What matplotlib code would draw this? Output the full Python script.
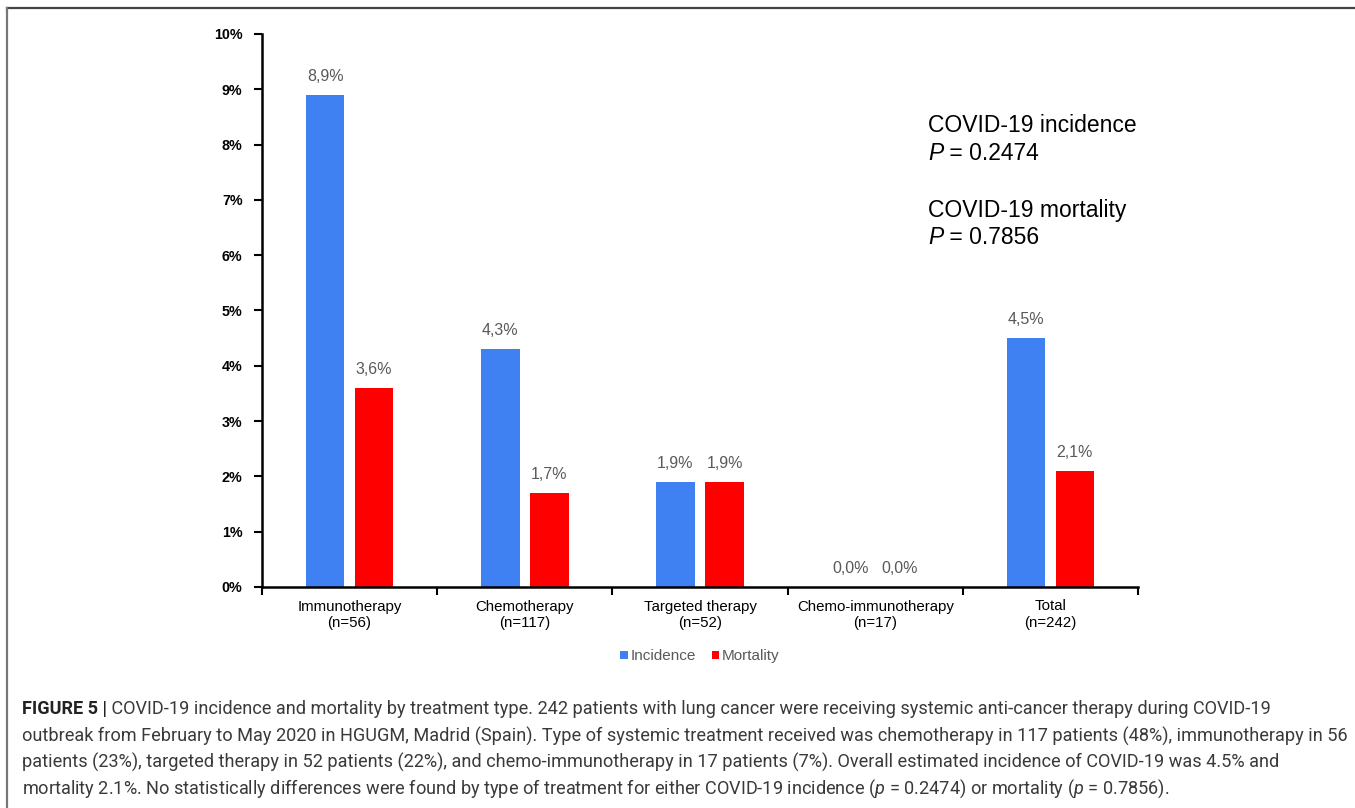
import matplotlib
matplotlib.use("Agg")
import matplotlib.pyplot as plt
from matplotlib.lines import Line2D
import numpy as np

# Data
categories = ["Immunotherapy\n(n=56)", "Chemotherapy\n(n=117)", "Targeted therapy\n(n=52)",
              "Chemo-immunotherapy\n(n=17)", "Total\n(n=242)"]
incidence = [8.9, 4.3, 1.9, 0.0, 4.5]
mortality = [3.6, 1.7, 1.9, 0.0, 2.1]
series_names = ["Incidence", "Mortality"]
yticks = [0, 1, 2, 3, 4, 5, 6, 7, 8, 9, 10]
p_notes = [("COVID-19 incidence", "0.2474"), ("COVID-19 mortality", "0.7856")]

caption_lines = [
    "COVID-19 incidence and mortality by treatment type. 242 patients with lung cancer were receiving systemic anti-cancer therapy during COVID-19",
    "outbreak from February to May 2020 in HGUGM, Madrid (Spain). Type of systemic treatment received was chemotherapy in 117 patients (48%), immunotherapy in 56",
    "patients (23%), targeted therapy in 52 patients (22%), and chemo-immunotherapy in 17 patients (7%). Overall estimated incidence of COVID-19 was 4.5% and",
    "mortality 2.1%. No statistically differences were found by type of treatment for either COVID-19 incidence ($\\it{p}$ = 0.2474) or mortality ($\\it{p}$ = 0.7856).",
]

BLUE = "#3F80F2"
RED = "#FF0000"
LABEL_GRAY = "#595959"

plt.rcParams["font.family"] = ["Liberation Sans", "DejaVu Sans"]
plt.rcParams["mathtext.fontset"] = "custom"
plt.rcParams["mathtext.it"] = "Roboto:italic"
plt.rcParams["mathtext.rm"] = "Roboto"

W, H = 1355, 808
fig = plt.figure(figsize=(W / 100, H / 100), dpi=100)
fig.patch.set_facecolor("white")

ax = fig.add_axes([262 / W, 1 - 587 / H, 876 / W, 553 / H])

x = np.arange(len(categories))
bw = 0.22
off = 0.14
b1 = ax.bar(x - off, incidence, bw, color=BLUE, label=series_names[0])
b2 = ax.bar(x + off, mortality, bw, color=RED, label=series_names[1])

for bars, vals in ((b1, incidence), (b2, mortality)):
    for rect, v in zip(bars, vals):
        ax.annotate(f"{v:.1f}%".replace(".", ","),
                    xy=(rect.get_x() + rect.get_width() / 2, v),
                    xytext=(0, 11), textcoords="offset pixels",
                    ha="center", va="bottom", fontsize=11.5, color=LABEL_GRAY)

ax.set_xlim(-0.5, len(categories) - 0.5)
ax.set_ylim(0, 10)
ax.set_yticks(yticks)
ax.set_yticklabels([f"{t}%" for t in yticks], fontsize=10.3, fontweight="bold")
ax.tick_params(axis="y", direction="out", length=6, width=1.5, pad=8)

ax.set_xticks(np.arange(len(categories) + 1) - 0.5)
ax.set_xticklabels([])
ax.tick_params(axis="x", which="major", direction="out", length=6, width=1.5)
ax.set_xticks(x, categories, minor=True)
ax.tick_params(axis="x", which="minor", length=0, pad=9, labelsize=10.8)

for s in ("top", "right"):
    ax.spines[s].set_visible(False)
for s in ("left", "bottom"):
    ax.spines[s].set_linewidth(1.8)
    ax.spines[s].set_color("black")

ax.legend(loc="upper center", bbox_to_anchor=(0.5, -0.088), ncol=2, frameon=False,
          fontsize=11, handlelength=0.5, handleheight=0.5, handletextpad=0.2,
          columnspacing=1.0, labelcolor=LABEL_GRAY)

# p-value notes
note_rows = [(126, 153), (211, 238)]
for (title, pval), (y_title, y_p) in zip(p_notes, note_rows):
    fig.text(928 / W, 1 - y_title / H, title, fontsize=16.5, va="center", ha="left")
    pt = fig.text(928 / W, 1 - y_p / H, "P", fontsize=16.5, va="center", ha="left",
                  style="italic")
    ax.annotate(f" = {pval}", xy=(1, 0.5), xycoords=pt, fontsize=16.5, va="center",
                ha="left", annotation_clip=False)

# Frame lines
fig.add_artist(Line2D([7 / W, 1], [1 - 8 / H, 1 - 8 / H], color="#444444", lw=1.6,
                      transform=fig.transFigure))
fig.add_artist(Line2D([7 / W, 7 / W], [0, 1 - 8 / H], color="#777777", lw=1.6,
                      transform=fig.transFigure))

# Caption
cap_font = ["Roboto", "DejaVu Sans"]
cap_size = 13.1
cap_color = "#3a3a3a"
ys = [709, 736, 762, 789]
head = fig.text(22 / W, 1 - ys[0] / H, "FIGURE 5 |", fontsize=cap_size, fontweight="bold",
                family=cap_font, color="#222222", va="center", ha="left")
ax.annotate(" " + caption_lines[0], xy=(1, 0.5), xycoords=head, fontsize=cap_size,
            family=cap_font, color=cap_color, va="center", ha="left", annotation_clip=False)
for yy, line in zip(ys[1:], caption_lines[1:]):
    fig.text(22 / W, 1 - yy / H, line, fontsize=cap_size, family=cap_font, color=cap_color,
             va="center", ha="left")

fig.savefig("out.png", dpi=100, facecolor="white")
